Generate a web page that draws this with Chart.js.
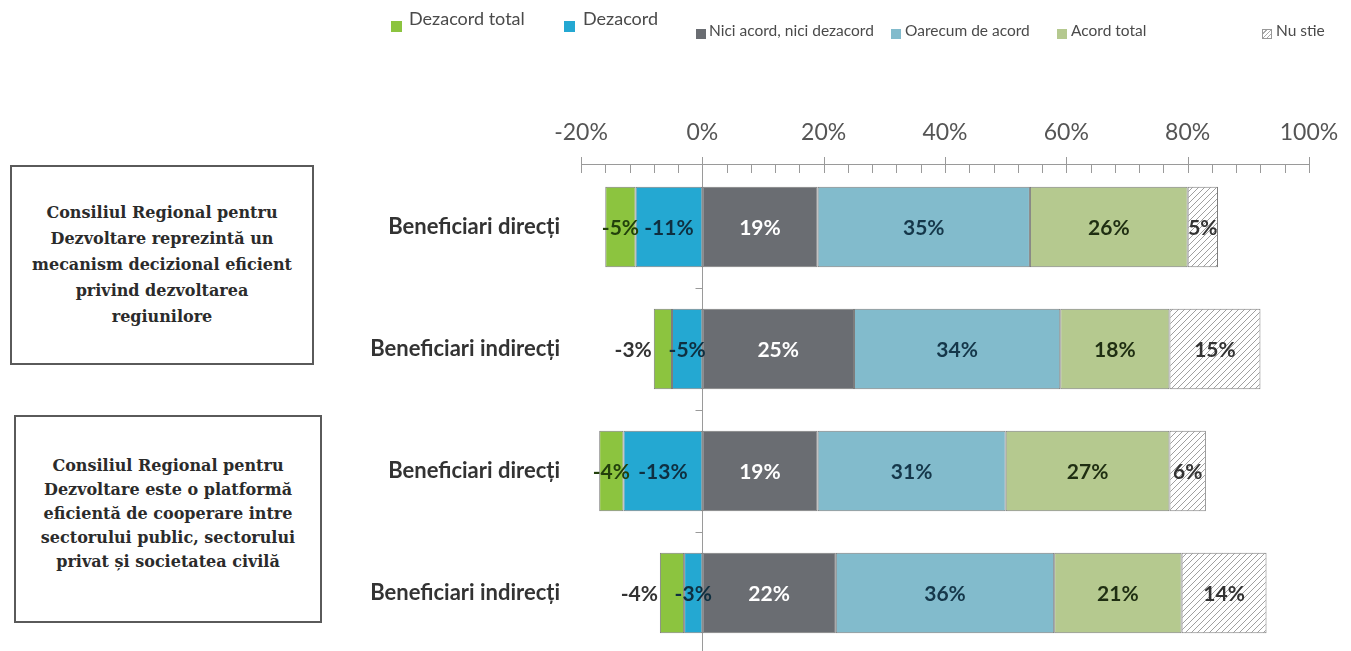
<!DOCTYPE html>
<html>
<head>
<meta charset="utf-8">
<script src="https://cdn.jsdelivr.net/npm/chart.js@4.4.1/dist/chart.umd.min.js"></script>
<style>
  body { margin: 0; width: 1351px; height: 651px; overflow: hidden; background: #fff; position: relative; }
  #chart { position: absolute; left: 0; top: 0; }
  .box {
    position: absolute; box-sizing: border-box; border: 2px solid #5a5a5a;
    display: flex; align-items: center; justify-content: center; text-align: center;
    font-family: "DejaVu Serif", serif; font-weight: bold; font-size: 16px; color: #2b2b2b;
    background: #fff;
  }
  .lg-item { position: absolute; font-family: Lato, sans-serif; color: #4a4a4a; white-space: nowrap; }
  .lg-sw { position: absolute; box-sizing: border-box; }
</style>
</head>
<body>
<canvas id="chart" width="1351" height="660"></canvas>
<div id="legend"></div>
<div class="box" style="left:10px;top:165px;width:304px;height:200px;line-height:26px;">
  <div>Consiliul Regional pentru<br>Dezvoltare reprezintă un<br>mecanism decizional eficient<br>privind dezvoltarea<br>regiunilore</div>
</div>
<div class="box" style="left:14px;top:415px;width:308px;height:208px;line-height:24px;padding-bottom:10px;">
  <div>Consiliul Regional pentru<br>Dezvoltare este o platformă<br>eficientă de cooperare intre<br>sectorului public, sectorului<br>privat și societatea civilă</div>
</div>
<script>
// data
const categories = ['Beneficiari direcți', 'Beneficiari indirecți', 'Beneficiari direcți', 'Beneficiari indirecți'];
const seriesNames = ['Dezacord total', 'Dezacord', 'Nici acord, nici dezacord', 'Oarecum de acord', 'Acord total', 'Nu stie'];
const dezacordTotal = [-5, -3, -4, -4];
const dezacord = [-11, -5, -13, -3];
const niciAcord = [19, 25, 19, 22];
const oarecum = [35, 34, 31, 36];
const acordTotal = [26, 18, 27, 21];
const nuStie = [5, 15, 6, 14];
const xMin = -20, xMax = 100, xStep = 20, xMinorStep = 4;

// styles
const colors = ['#8cc43f', '#24a8d2', '#6a6d72', '#82bbcc', '#b5c98f', '#ffffff'];
const labelColors = ['#22400c', '#0f2f40', '#ffffff', '#15374a', '#1f2e12', '#333333'];
// where the "Dezacord total" label sits: inside the bar or left of it
const totalLabelOutside = [false, true, false, true];
// legend layout: swatch x, text x, first two entries sit higher and larger
const legendSwX = [391, 564, 696, 891, 1057, 1262];
const legendTxtX = [409, 583, 709, 905, 1071, 1276];
const legendRaised = [true, true, false, false, false, false];

function hatch() {
  const c = document.createElement('canvas');
  c.width = 6; c.height = 6;
  const g = c.getContext('2d');
  g.fillStyle = '#fff';
  g.fillRect(0, 0, 6, 6);
  g.strokeStyle = '#a0a0a0';
  g.lineWidth = 1;
  g.beginPath();
  g.moveTo(0, 6); g.lineTo(6, 0);
  g.moveTo(-1, 1); g.lineTo(1, -1);
  g.moveTo(5, 7); g.lineTo(7, 5);
  g.stroke();
  return g.createPattern(c, 'repeat');
}

// html legend
const legend = document.getElementById('legend');
seriesNames.forEach((name, i) => {
  const up = legendRaised[i];
  const sw = document.createElement('span');
  sw.className = 'lg-sw';
  sw.style.left = legendSwX[i] + 'px';
  sw.style.top = (up ? 21 : 29) + 'px';
  sw.style.width = sw.style.height = (up ? 11 : 10) + 'px';
  if (i === 5) {
    sw.style.border = '1px solid #999';
    sw.style.background = 'repeating-linear-gradient(135deg,#fff 0 2px,#aaa 2px 3px)';
  } else {
    sw.style.background = colors[i];
  }
  legend.appendChild(sw);
  const t = document.createElement('span');
  t.className = 'lg-item';
  t.textContent = name;
  t.style.left = legendTxtX[i] + 'px';
  t.style.top = (up ? 7 : 21) + 'px';
  t.style.fontSize = (up ? 18 : 15.5) + 'px';
  legend.appendChild(t);
});

const pattern = hatch();

// stacked from zero outwards: Dezacord next to zero, Dezacord total on the far left
const datasets = [
  { label: seriesNames[1], data: dezacord, backgroundColor: colors[1], key: 1 },
  { label: seriesNames[0], data: dezacordTotal, backgroundColor: colors[0], key: 0 },
  { label: seriesNames[2], data: niciAcord, backgroundColor: colors[2], key: 2 },
  { label: seriesNames[3], data: oarecum, backgroundColor: colors[3], key: 3 },
  { label: seriesNames[4], data: acordTotal, backgroundColor: colors[4], key: 4 },
  { label: seriesNames[5], data: nuStie, backgroundColor: pattern, key: 5 }
].map(d => Object.assign(d, {
  borderColor: '#7d7d7d',
  borderWidth: 1,
  borderSkipped: false,
  barPercentage: 0.66,
  categoryPercentage: 1
}));

const axisDecor = {
  id: 'axisDecor',
  beforeDatasetsDraw(chart) {
    const ctx = chart.ctx, x = chart.scales.x, y = chart.scales.y, area = chart.chartArea;
    const axisY = area.top - 2;
    const x0 = Math.round(x.getPixelForValue(0)) + 0.5;
    ctx.save();
    ctx.strokeStyle = '#9a9a9a';
    ctx.lineWidth = 1;
    ctx.beginPath();
    ctx.moveTo(x.getPixelForValue(xMin), axisY + 0.5);
    ctx.lineTo(x.getPixelForValue(xMax), axisY + 0.5);
    for (let v = xMin; v <= xMax; v += xMinorStep) {
      const px = Math.round(x.getPixelForValue(v)) + 0.5;
      const major = v % xStep === 0;
      ctx.moveTo(px, major ? axisY - 7 : axisY);
      ctx.lineTo(px, axisY + 9);
    }
    // zero line
    ctx.moveTo(x0, axisY);
    ctx.lineTo(x0, area.bottom);
    // small ticks between categories
    for (let i = 0; i < categories.length - 1; i++) {
      const py = Math.round((y.getPixelForValue(i) + y.getPixelForValue(i + 1)) / 2) + 0.5;
      ctx.moveTo(x0 - 7, py);
      ctx.lineTo(x0, py);
    }
    ctx.stroke();
    ctx.restore();
  },
  afterDatasetsDraw(chart) {
    const ctx = chart.ctx;
    ctx.save();
    ctx.font = 'bold 21px Lato';
    ctx.textBaseline = 'middle';
    chart.data.datasets.forEach((ds, di) => {
      chart.getDatasetMeta(di).data.forEach((bar, i) => {
        const v = ds.data[i];
        const left = Math.min(bar.x, bar.base), right = Math.max(bar.x, bar.base);
        ctx.fillStyle = labelColors[ds.key];
        if (ds.key === 0 && totalLabelOutside[i]) {
          ctx.textAlign = 'right';
          ctx.fillStyle = '#333';
          ctx.fillText(v + '%', left - 2, bar.y + 1);
        } else {
          ctx.textAlign = 'center';
          ctx.fillText(v + '%', (left + right) / 2, bar.y + 1);
        }
      });
    });
    ctx.restore();
  }
};

new Chart(document.getElementById('chart'), {
  type: 'bar',
  data: { labels: categories, datasets: datasets },
  options: {
    indexAxis: 'y',
    responsive: false,
    animation: false,
    layout: { padding: { left: 0, right: 0, top: 0, bottom: 6 } },
    plugins: { legend: { display: false }, tooltip: { enabled: false } },
    scales: {
      x: {
        position: 'top',
        stacked: true,
        min: xMin,
        max: xMax,
        grid: { display: false, drawTicks: false },
        border: { display: false },
        ticks: {
          stepSize: xStep,
          padding: 20,
          maxRotation: 0,
          color: '#555',
          font: { family: 'Lato', size: 23 },
          callback: v => v + '%'
        },
        afterFit: s => { s.height = 166; s.paddingLeft = 0; s.paddingRight = 42; }
      },
      y: {
        stacked: true,
        grid: { display: false, drawTicks: false },
        border: { display: false },
        ticks: {
          padding: 21,
          color: '#333',
          font: { family: 'Lato', size: 22, weight: 'bold' }
        },
        afterFit: s => { s.width = 581; s.paddingTop = 0; s.paddingBottom = 0; }
      }
    }
  },
  plugins: [axisDecor]
});
</script>
</body>
</html>
